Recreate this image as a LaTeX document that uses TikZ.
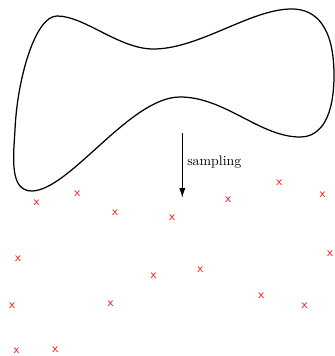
\documentclass[tikz,border=0pt]{standalone}
\usetikzlibrary{arrows.meta}
\begin{document}
\begin{tikzpicture}[x=0.7216pt,y=-0.7216pt,
  samp/.style={text=red,font=\sffamily\small,inner sep=0pt},
  lbl/.style={font=\normalsize,inner sep=0pt,anchor=base west},
  blob/.style={line width=0.9pt,black}]
\useasboundingbox (0,0) rectangle (335,356);
\draw[blob] (57,16) .. controls (85,16) and (120,50) .. (155,49)
  .. controls (200,48) and (250,10) .. (290,9)
  .. controls (318,8) and (334,30) .. (334,75)
  .. controls (334,115) and (322,137) .. (300,137)
  .. controls (260,137) and (225,97) .. (180,97)
  .. controls (130,97) and (70,190) .. (32,191)
  .. controls (10,191) and (13,160) .. (15,130)
  .. controls (17,80) and (35,16) .. cycle;
\coordinate (a1) at (182.3,133.3);
\coordinate (a2) at (182.3,197.7);
\draw[-{Latex[length=7pt,width=4.5pt]},line width=0.7pt] (a1) -- (a2);
\node[lbl] (s) at (187,165) {sampling};
\foreach \i/\x/\y in {1/36.7/202.3,2/77.3/193.3,3/115/212.7,4/172/217.7,5/228.3/199.7,
  6/279.3/182.3,7/322.7/194.3,8/18/259,9/153.7/275.3,10/200.3/269.3,11/330/253.3,
  12/12/305.7,13/110.7/303.3,14/261.3/296,15/304.7/305.7,16/16.7/351,17/55.3/349.3}
  \node[samp] (p\i) at (\x,\y) {x};
\end{tikzpicture}
\end{document}
